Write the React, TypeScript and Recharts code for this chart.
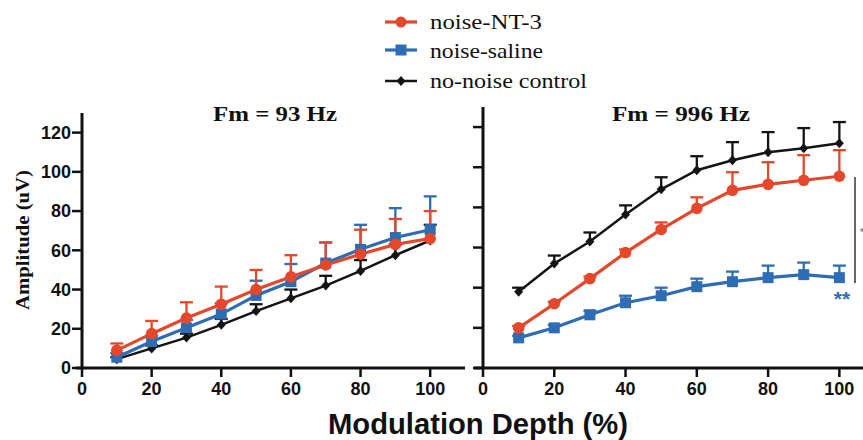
import React from 'react';
import { LineChart, Line, XAxis, YAxis, ErrorBar } from 'recharts';

// ---- data ----
const depths = [10, 20, 30, 40, 50, 60, 70, 80, 90, 100];
const xTicks = [0, 20, 40, 60, 80, 100];
const yTicks = [0, 20, 40, 60, 80, 100, 120];
const seriesNames = ['noise-NT-3', 'noise-saline', 'no-noise control'];
const panelTitles = ['Fm = 93 Hz', 'Fm = 996 Hz'];
const xAxisTitle = 'Modulation Depth (%)';
const yAxisTitle = 'Amplitude (uV)';

// Fm = 93 Hz
const nt3Fm93 = [9, 17.5, 25.5, 32.5, 40, 46.5, 52.5, 58, 63, 66];
const nt3Fm93Err = [3.5, 6.5, 8, 9, 10, 11, 11.5, 12.5, 13, 14];
const salineFm93 = [5.5, 13.5, 20.5, 27.5, 37, 44, 53.5, 60.5, 66.5, 70.5];
const salineFm93Err = [2, 3, 4, 5.5, 7.5, 9, 10.5, 12.5, 15, 17];
const controlFm93 = [4.5, 10, 15.5, 22, 29, 35.5, 42, 49.5, 57.5, 65];
const controlFm93Err = [1, 1.5, 2, 3, 3.5, 4.5, 5, 5.5, 5.5, 8];

// Fm = 996 Hz
const nt3Fm996 = [20, 32, 44.5, 57.5, 69, 79.5, 88.5, 91.5, 93.5, 95.5];
const nt3Fm996Err = [1, 1, 1, 1.5, 3.5, 5.5, 9, 11, 12.5, 13];
const salineFm996 = [15, 20, 26.5, 32.5, 36, 40.5, 43, 45, 46.5, 45];
const salineFm996Err = [1, 1.5, 2, 3.5, 4, 4, 5, 6, 6, 6];
const controlFm996 = [38, 52, 63, 76.5, 89, 98.5, 103.5, 107.5, 109.5, 112];
const controlFm996Err = [2, 4, 4.5, 4.5, 6, 7, 9, 10, 10, 10.5];

const ORANGE = '#E5472A';
const BLUE = '#2E6DB4';
const BLACK = '#141414';

const build = (nt3: number[], nt3E: number[], sal: number[], salE: number[], ctl: number[], ctlE: number[]) =>
  depths.map((d, i) => ({
    depth: d,
    nt3: nt3[i],
    nt3Err: [0, nt3E[i]],
    saline: sal[i],
    salineErr: [0, salE[i]],
    control: ctl[i],
    controlErr: [0, ctlE[i]],
  }));

const data93 = build(nt3Fm93, nt3Fm93Err, salineFm93, salineFm93Err, controlFm93, controlFm93Err);
const data996 = build(nt3Fm996, nt3Fm996Err, salineFm996, salineFm996Err, controlFm996, controlFm996Err);

// ---- markers ----
const circleDot = (props: any) => {
  const { cx, cy, index } = props;
  if (cx == null || cy == null) return <g key={`c${index}`} />;
  return <circle key={`c${index}`} cx={cx} cy={cy} r={5.8} fill={ORANGE} />;
};
const squareDot = (props: any) => {
  const { cx, cy, index } = props;
  if (cx == null || cy == null) return <g key={`s${index}`} />;
  return <rect key={`s${index}`} x={cx - 5.5} y={cy - 5.5} width={11} height={11} fill={BLUE} />;
};
const diamondDot = (props: any) => {
  const { cx, cy, index } = props;
  if (cx == null || cy == null) return <g key={`d${index}`} />;
  return (
    <polygon
      key={`d${index}`}
      points={`${cx},${cy - 5} ${cx + 4.5},${cy} ${cx},${cy + 5} ${cx - 4.5},${cy}`}
      fill={BLACK}
    />
  );
};

const tickFont = {
  fontFamily: '"Liberation Sans", Arial, sans-serif',
  fontWeight: 700,
  fontSize: 18,
  fill: '#111',
};

type PanelProps = {
  data: any[];
  width: number;
  top: number;
  yAxisWidth: number;
  showYLabels: boolean;
};

function Panel({ data, width, top, yAxisWidth, showYLabels }: PanelProps) {
  return (
    <LineChart width={width} height={440} data={data} margin={{ top, right: 10, bottom: 32, left: 0 }}>
      <XAxis
        type="number"
        dataKey="depth"
        domain={[0, 110]}
        ticks={xTicks}
        interval={0}
        height={40}
        tickSize={9}
        tickMargin={5}
        axisLine={{ stroke: '#111', strokeWidth: 3 }}
        tickLine={{ stroke: '#111', strokeWidth: 2.5 }}
        tick={tickFont}
      />
      <YAxis
        type="number"
        domain={[0, 130]}
        ticks={yTicks}
        interval={0}
        width={yAxisWidth}
        tickSize={10}
        tickMargin={1}
        axisLine={{ stroke: '#111', strokeWidth: 3 }}
        tickLine={{ stroke: '#111', strokeWidth: 2.5 }}
        tick={tickFont}
        tickFormatter={showYLabels ? (v: number) => String(v) : () => ''}
      />
      <Line
        type="linear"
        dataKey="control"
        name={seriesNames[2]}
        stroke={BLACK}
        strokeWidth={2.5}
        dot={diamondDot}
        activeDot={false}
        isAnimationActive={false}
      >
        <ErrorBar dataKey="controlErr" direction="y" width={6.5} stroke={BLACK} strokeWidth={2.3} />
      </Line>
      <Line
        type="linear"
        dataKey="saline"
        name={seriesNames[1]}
        stroke={BLUE}
        strokeWidth={3.2}
        dot={squareDot}
        activeDot={false}
        isAnimationActive={false}
      >
        <ErrorBar dataKey="salineErr" direction="y" width={6.5} stroke={BLUE} strokeWidth={2.3} />
      </Line>
      <Line
        type="linear"
        dataKey="nt3"
        name={seriesNames[0]}
        stroke={ORANGE}
        strokeWidth={3.2}
        dot={circleDot}
        activeDot={false}
        isAnimationActive={false}
      >
        <ErrorBar dataKey="nt3Err" direction="y" width={6.5} stroke={ORANGE} strokeWidth={2.3} />
      </Line>
    </LineChart>
  );
}

const serif = '"Liberation Serif", "Times New Roman", serif';
const sans = '"Liberation Sans", Arial, sans-serif';

const legendRows = [
  { name: seriesNames[0], color: ORANGE, y: 22, base: 29, len: 112, marker: 'circle' },
  { name: seriesNames[1], color: BLUE, y: 50, base: 58, len: 113, marker: 'square' },
  { name: seriesNames[2], color: BLACK, y: 81, base: 88, len: 157, marker: 'diamond' },
];

export default function App() {
  return (
    <div
      style={{
        position: 'absolute',
        left: 0,
        top: 0,
        width: 863,
        height: 440,
        overflow: 'hidden',
        background: '#fff',
      }}
    >
      <style>{`.recharts-errorBar line:nth-of-type(3){display:none}`}</style>
      <div style={{ position: 'absolute', left: 0, top: 0 }}>
        <Panel data={data93} width={475} top={113} yAxisWidth={82} showYLabels={true} />
      </div>
      <div style={{ position: 'absolute', left: 440, top: 0 }}>
        <Panel data={data996} width={445} top={107} yAxisWidth={43} showYLabels={false} />
      </div>
      <svg
        width={863}
        height={440}
        style={{ position: 'absolute', left: 0, top: 0, pointerEvents: 'none' }}
      >
        {/* small axis-line overhangs left of each y axis */}
        <line x1={76} x2={83} y1={368} y2={368} stroke="#111" strokeWidth={3} />
        <line x1={474} x2={484} y1={368} y2={368} stroke="#111" strokeWidth={3} />
        {legendRows.map((r) => (
          <g key={r.name}>
            <line x1={385} x2={417} y1={r.y} y2={r.y} stroke={r.color} strokeWidth={r.marker === 'diamond' ? 2.5 : 3.2} />
            {r.marker === 'circle' && <circle cx={401} cy={r.y} r={5.5} fill={r.color} />}
            {r.marker === 'square' && <rect x={395.5} y={r.y - 5.5} width={11} height={11} fill={r.color} />}
            {r.marker === 'diamond' && (
              <polygon points={`401,${r.y - 5} 405.5,${r.y} 401,${r.y + 5} 396.5,${r.y}`} fill={r.color} />
            )}
            <text
              x={430}
              y={r.base}
              fontFamily={serif}
              fontSize={21}
              fill="#111"
              textLength={r.len}
              lengthAdjust="spacingAndGlyphs"
            >
              {r.name}
            </text>
          </g>
        ))}
        <text
          x={275}
          y={121}
          textAnchor="middle"
          fontFamily={serif}
          fontWeight={700}
          fontSize={21}
          fill="#111"
          textLength={124}
          lengthAdjust="spacingAndGlyphs"
        >
          {panelTitles[0]}
        </text>
        <text
          x={681}
          y={121}
          textAnchor="middle"
          fontFamily={serif}
          fontWeight={700}
          fontSize={21}
          fill="#111"
          textLength={138}
          lengthAdjust="spacingAndGlyphs"
        >
          {panelTitles[1]}
        </text>
        <text
          transform="translate(29,240) rotate(-90)"
          textAnchor="middle"
          fontFamily={serif}
          fontWeight={700}
          fontSize={19}
          fill="#111"
          textLength={140}
          lengthAdjust="spacingAndGlyphs"
        >
          {yAxisTitle}
        </text>
        <text
          x={478}
          y={434}
          textAnchor="middle"
          fontFamily={sans}
          fontWeight={700}
          fontSize={29}
          fill="#111"
          textLength={300}
          lengthAdjust="spacingAndGlyphs"
        >
          {xAxisTitle}
        </text>
        <line x1={855} x2={855} y1={177} y2={283} stroke="#333" strokeWidth={1.5} />
        <text x={860} y={236} fontFamily={sans} fontSize={10} fill="#555">*</text>
        <text x={842} y={306} textAnchor="middle" fontFamily={sans} fontWeight={700} fontSize={21} fill={BLUE}>
          **
        </text>
      </svg>
    </div>
  );
}
